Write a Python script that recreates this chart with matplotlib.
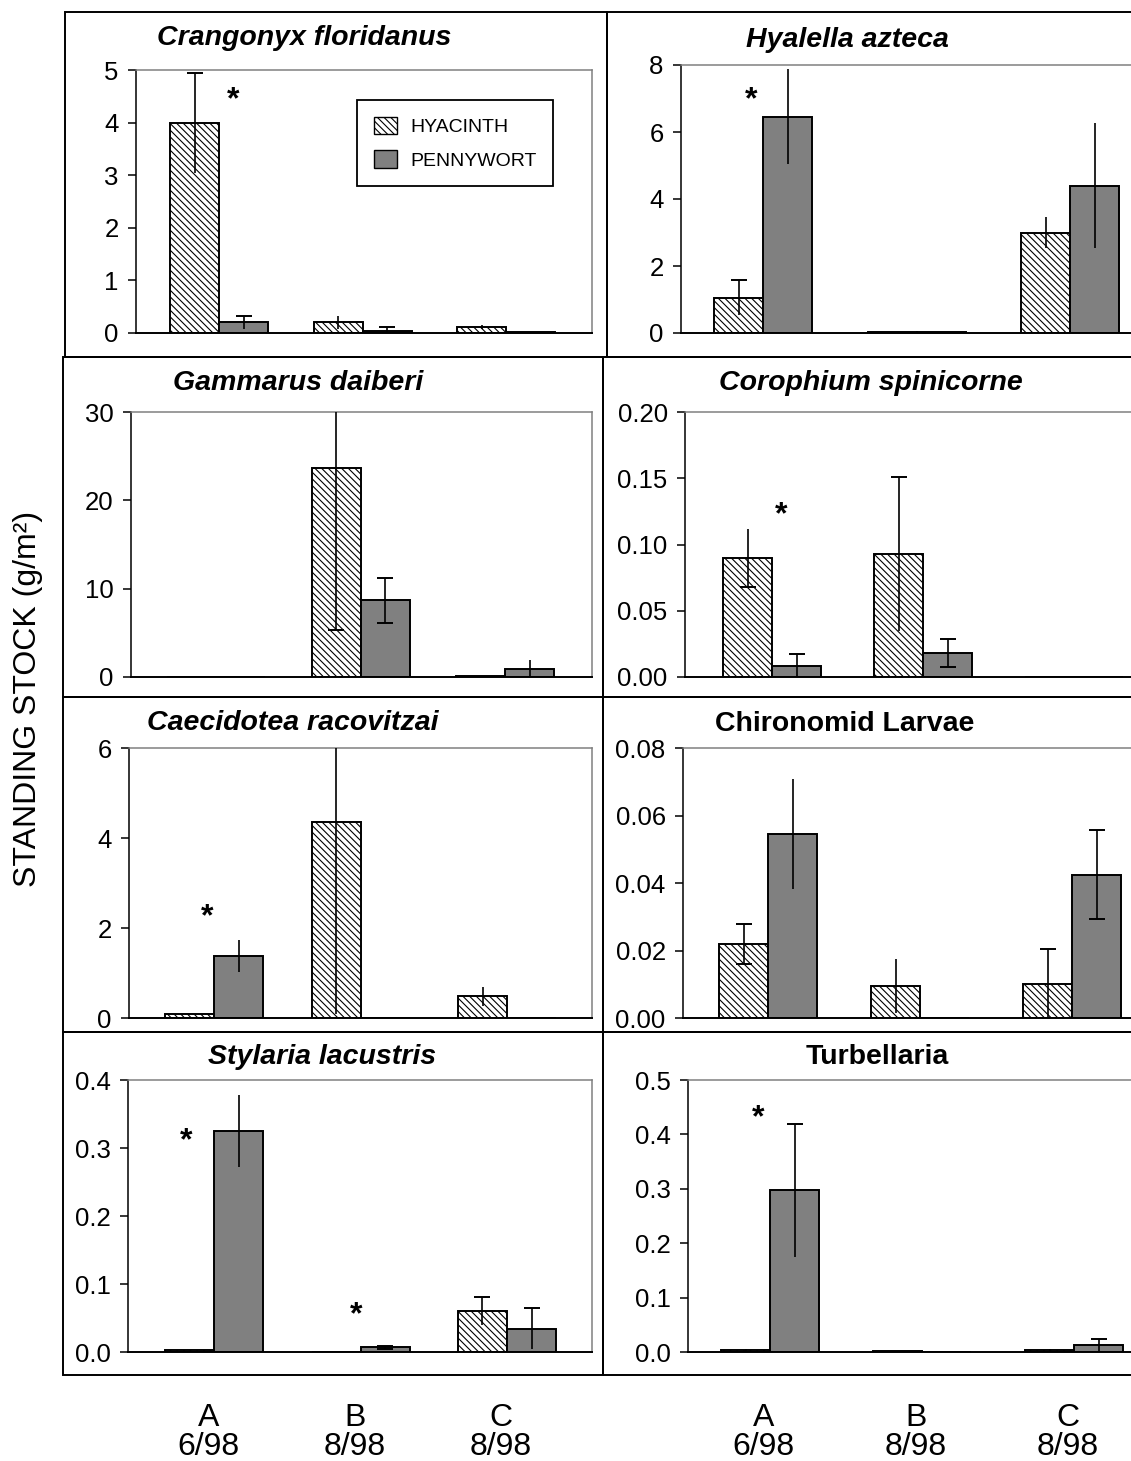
import numpy as np
import matplotlib
matplotlib.use("Agg")
import matplotlib.pyplot as plt
from matplotlib.patches import Rectangle, Patch
from matplotlib.ticker import FormatStrFormatter, MultipleLocator

plt.rcParams['font.family'] = ['Liberation Sans', 'DejaVu Sans']
plt.rcParams['hatch.linewidth'] = 0.8

W, H = 1131, 1461
HATCH = '\\\\\\\\\\'
GREY = '#808080'

sites = ["A\n6/98", "B\n8/98", "C\n8/98"]
series = ["HYACINTH", "PENNYWORT"]

# means (row 0 hyacinth, row 1 pennywort) for sites A, B, C; errors are +/-
crangonyx = [[4.0, 0.2, 0.12], [0.2, 0.04, 0.01]]
crangonyx_err = [[0.95, 0.12, 0.04], [0.12, 0.08, 0.0]]
crangonyx_caps = [["t", "", ""], ["t", "t", ""]]
crangonyx_stars = [(0.1, 4.43)]

hyalella = [[1.05, 0.02, 3.0], [6.45, 0.02, 4.4]]
hyalella_err = [[0.52, 0.0, 0.47], [1.42, 0.0, 1.87]]
hyalella_caps = [["t", "", ""], ["", "", ""]]
hyalella_stars = [(-0.08, 6.95)]

gammarus = [[0.0, 23.7, 0.08], [0.05, 8.7, 0.9]]
gammarus_err = [[0.0, 18.4, 0.0], [0.0, 2.55, 1.0]]
gammarus_caps = [["", "b", ""], ["", "tb", ""]]
gammarus_stars = []

corophium = [[0.090, 0.093, 0.0], [0.008, 0.018, 0.0]]
corophium_err = [[0.022, 0.058, 0.0], [0.009, 0.0105, 0.0]]
corophium_caps = [["b", "t", ""], ["t", "tb", ""]]
corophium_stars = [(0.06, 0.122)]

caecidotea = [[0.1, 4.35, 0.48], [1.38, 0.0, 0.0]]
caecidotea_err = [[0.0, 4.25, 0.22], [0.36, 0.0, 0.0]]
caecidotea_caps = [["", "", ""], ["", "", ""]]
caecidotea_stars = [(-0.05, 2.25)]

chironomid = [[0.022, 0.0095, 0.010], [0.0545, 0.0, 0.0425]]
chironomid_err = [[0.006, 0.008, 0.0105], [0.0163, 0.0, 0.0133]]
chironomid_caps = [["tb", "", "t"], ["", "", "tb"]]
chironomid_stars = []

stylaria = [[0.003, 0.0, 0.06], [0.325, 0.007, 0.034]]
stylaria_err = [[0.0, 0.0, 0.021], [0.053, 0.002, 0.03]]
stylaria_caps = [["", "", "t"], ["", "tb", "t"]]
stylaria_stars = [(-0.19, 0.31), (0.97, 0.054)]

turbellaria = [[0.003, 0.001, 0.003], [0.297, 0.0, 0.012]]
turbellaria_err = [[0.003, 0.0, 0.003], [0.123, 0.0, 0.011]]
turbellaria_caps = [["", "", ""], ["t", "", "t"]]
turbellaria_stars = [(-0.08, 0.43)]

# title, italic, ymax, step, fmt, data..., geometry in px: L, R, T, B, centre of A, spacing, title x, title y
panels = [
    ("Crangonyx floridanus", True, 5, 1, '%d', crangonyx, crangonyx_err, crangonyx_caps, crangonyx_stars,
     (136, 592, 70, 333, 219, 143.5, 304, 38)),
    ("Hyalella azteca", True, 8, 2, '%d', hyalella, hyalella_err, hyalella_caps, hyalella_stars,
     (681, None, 65, 333, 763, 153.5, 847, 40)),
    ("Gammarus daiberi", True, 30, 10, '%d', gammarus, gammarus_err, gammarus_caps, gammarus_stars,
     (131, 592, 412, 677, 216, 144.5, 298, 383)),
    ("Corophium spinicorne", True, 0.2, 0.05, '%.2f', corophium, corophium_err, corophium_caps, corophium_stars,
     (685, None, 412, 677, 772, 151, 871, 383)),
    ("Caecidotea racovitzai", True, 6, 2, '%d', caecidotea, caecidotea_err, caecidotea_caps, caecidotea_stars,
     (129, 592, 748, 1018, 214, 146.5, 293, 723)),
    ("Chironomid Larvae", False, 0.08, 0.02, '%.2f', chironomid, chironomid_err, chironomid_caps, chironomid_stars,
     (683, None, 748, 1018, 768, 152, 845, 724)),
    ("Stylaria lacustris", True, 0.4, 0.1, '%.1f', stylaria, stylaria_err, stylaria_caps, stylaria_stars,
     (128, 592, 1080, 1352, 214, 146.5, 322, 1057)),
    ("Turbellaria", False, 0.5, 0.1, '%.1f', turbellaria, turbellaria_err, turbellaria_caps, turbellaria_stars,
     (688, None, 1080, 1352, 770, 152, 877, 1057)),
]

frames = [(65, 12, 607, 357), (607, 12, 1140, 357),
          (63, 357, 603, 697), (603, 357, 1140, 697),
          (63, 697, 603, 1032), (603, 697, 1140, 1032),
          (63, 1032, 603, 1375), (603, 1032, 1140, 1375)]


def fx(px):
    return px / W


def fy(py):
    return 1 - py / H


fig = plt.figure(figsize=(W / 100, H / 100), dpi=100)

for x0, y0, x1, y1 in frames:
    fig.patches.append(Rectangle((fx(x0), fy(y1)), (x1 - x0) / W, (y1 - y0) / H,
                                 transform=fig.transFigure, fill=False,
                                 edgecolor='black', linewidth=1.4))

for i, (title, italic, ymax, step, fmt, vals, errs, caps, stars, geo) in enumerate(panels):
    L, R, T, B, cA, s, tx, ty = geo
    if R is None:
        R = cA + 2.6 * s
    ax = fig.add_axes([fx(L), fy(B), (R - L) / W, (B - T) / H])
    ax.set_xlim((L - cA) / s, (R - cA) / s)
    ax.set_ylim(0, ymax)
    w = 49 / s
    x = np.arange(3)
    for k in range(2):
        xs = x + (k - 0.5) * w
        if k == 0:
            ax.bar(xs, vals[k], w, color='white', edgecolor='black', hatch=HATCH, linewidth=1.4, zorder=2)
        else:
            ax.bar(xs, vals[k], w, color=GREY, edgecolor='black', linewidth=1.4, zorder=2)
        ax.errorbar(xs, vals[k], yerr=errs[k], fmt='none', ecolor='black', elinewidth=1.2,
                    capsize=0, zorder=3)
        for xi, vi, ei, ci in zip(xs, vals[k], errs[k], caps[k]):
            if 't' in ci:
                ax.plot(xi, vi + ei, marker='_', ms=11, mew=1.4, color='black', zorder=3)
            if 'b' in ci:
                ax.plot(xi, vi - ei, marker='_', ms=11, mew=1.4, color='black', zorder=3)
    for sx, sy in stars:
        ax.text(sx, sy, '*', fontsize=23, fontweight='bold', ha='center', va='center')

    ax.yaxis.set_major_locator(MultipleLocator(step))
    ax.yaxis.set_major_formatter(FormatStrFormatter(fmt))
    for side in ['top', 'right']:
        ax.spines[side].set_color(GREY)
        ax.spines[side].set_linewidth(1.1)
    ax.spines['left'].set_linewidth(1.1)
    ax.spines['bottom'].set_linewidth(1.4)
    ax.tick_params(axis='y', direction='out', length=5.5, width=1.1, labelsize=18.5, pad=7)
    ax.set_xticks(x - 0.04)
    if i >= 6:
        ax.set_xticklabels(sites)
        ax.tick_params(axis='x', length=0, labelsize=23, pad=37)
        for lab in ax.get_xticklabels():
            lab.set_linespacing(0.95)
    else:
        ax.set_xticklabels([])
        ax.tick_params(axis='x', length=0)

    fig.text(fx(tx), fy(ty), title, ha='center', va='center', fontsize=20.5,
             fontweight='bold', fontstyle='italic' if italic else 'normal')

    if i == 0:
        handles = [Patch(facecolor='white', edgecolor='black', hatch=HATCH, label=series[0]),
                   Patch(facecolor=GREY, edgecolor='black', label=series[1])]
        leg = ax.legend(handles=handles, loc='upper left', bbox_to_anchor=(fx(357), fy(100)),
                        bbox_transform=fig.transFigure, fancybox=False, edgecolor='black',
                        framealpha=1, fontsize=14, handlelength=1.2, handleheight=1.0,
                        handletextpad=0.7, labelspacing=0.75, borderpad=0.85, borderaxespad=0)
        leg.get_frame().set_linewidth(1.3)

fig.text(fx(28), fy(699), "STANDING STOCK (g/m\u00b2)", rotation=90, ha='center', va='center', fontsize=23)

fig.savefig("out.png", dpi=100)
